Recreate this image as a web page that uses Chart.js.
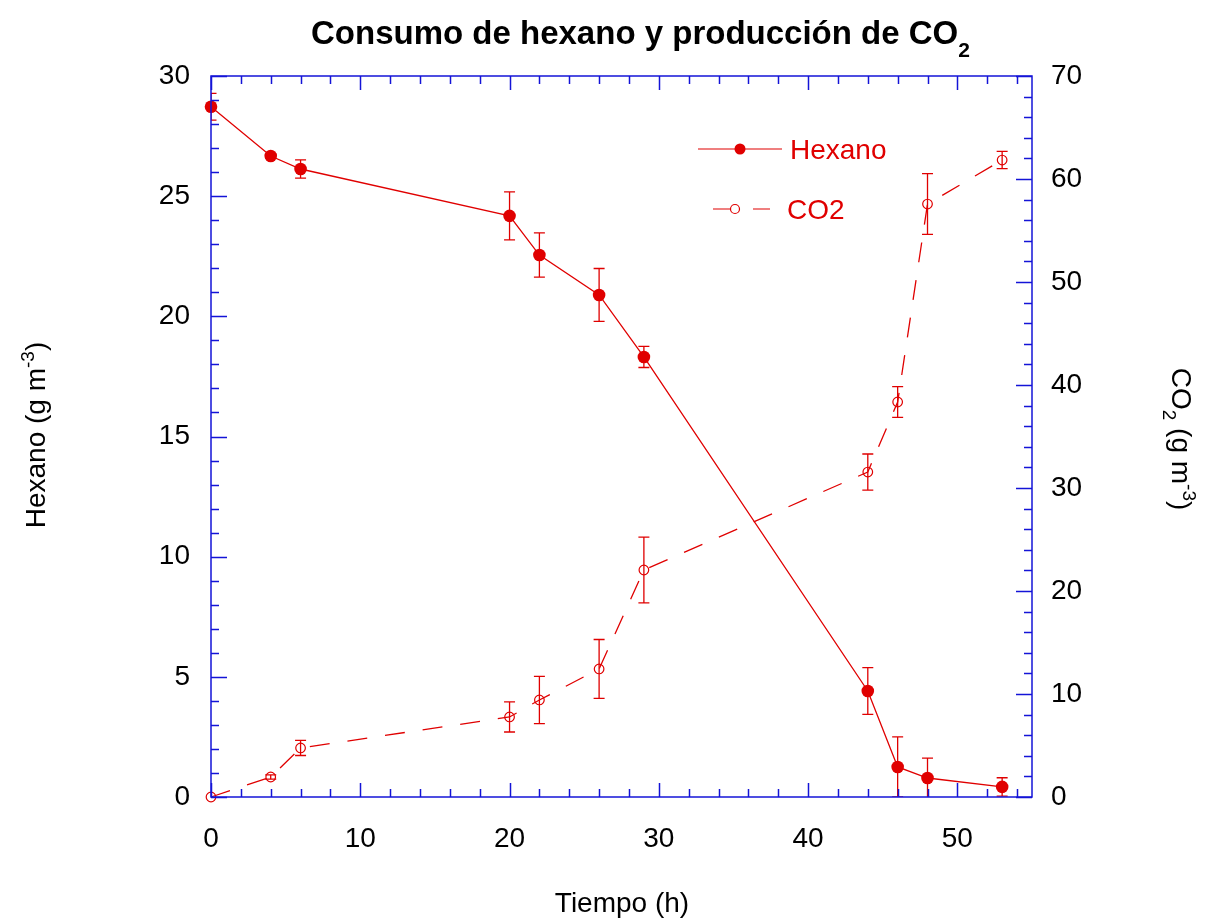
<!DOCTYPE html>
<html>
<head>
<meta charset="utf-8">
<script src="https://cdn.jsdelivr.net/npm/chart.js@4.4.1/dist/chart.umd.min.js"></script>
<style>
  html, body { margin: 0; padding: 0; background: #fff; }
  #wrap { width: 1206px; height: 919px; }
</style>
</head>
<body>
<div id="wrap"><canvas id="grafico" width="1206" height="919"></canvas></div>
<script>
// tiempo de muestreo (h)
const tiempo = [0, 4, 6, 20, 22, 26, 29, 44, 46, 48, 53];
// hexano (g m-3) y su desviacion
const hexano = [28.72, 26.67, 26.13, 24.18, 22.55, 20.89, 18.31, 4.41, 1.25, 0.79, 0.42];
const hexanoErr = [0.56, 0.1, 0.38, 1.0, 0.92, 1.1, 0.44, 0.97, 1.25, 0.83, 0.38];
// CO2 (g m-3) y su desviacion
const co2 = [0, 1.94, 4.76, 7.77, 9.42, 12.43, 22.04, 31.55, 38.35, 57.57, 61.84];
const co2Err = [0, 0.2, 0.73, 1.46, 2.3, 2.86, 3.2, 1.75, 1.5, 2.95, 0.84];
// rotulos de los ejes
const ticksX = [0, 10, 20, 30, 40, 50];

const ROJO = '#e00000';
const AZUL = 'rgb(20,20,215)';
const FUENTE = '"Liberation Sans", Arial, sans-serif';

// barras de error, dibujadas antes de los marcadores
const barrasError = {
  id: 'barrasError',
  beforeDatasetsDraw(chart) {
    const ctx = chart.ctx;
    const x = chart.scales.x;
    const a = chart.chartArea;
    const series = [
      { v: hexano, e: hexanoErr, s: chart.scales.y },
      { v: co2, e: co2Err, s: chart.scales.y2 }
    ];
    ctx.save();
    ctx.beginPath();
    ctx.rect(a.left, a.top, a.right - a.left, a.bottom - a.top);
    ctx.clip();
    ctx.strokeStyle = ROJO;
    ctx.lineWidth = 1.3;
    series.forEach(sr => {
      tiempo.forEach((t, i) => {
        if (!sr.e[i]) return;
        const px = x.getPixelForValue(t);
        const y1 = sr.s.getPixelForValue(sr.v[i] + sr.e[i]);
        const y2 = sr.s.getPixelForValue(sr.v[i] - sr.e[i]);
        ctx.beginPath();
        ctx.moveTo(px, y1); ctx.lineTo(px, y2);
        ctx.moveTo(px - 5.5, y1); ctx.lineTo(px + 5.5, y1);
        ctx.moveTo(px - 5.5, y2); ctx.lineTo(px + 5.5, y2);
        ctx.stroke();
      });
    });
    ctx.restore();
  }
};

// marco azul con marcas hacia dentro en los cuatro lados
const marco = {
  id: 'marco',
  afterDatasetsDraw(chart) {
    const ctx = chart.ctx;
    const a = chart.chartArea;
    const x = chart.scales.x, y = chart.scales.y, y2 = chart.scales.y2;
    ctx.save();
    ctx.strokeStyle = AZUL;
    ctx.lineWidth = 1.5;
    ctx.strokeRect(a.left, a.top, a.right - a.left, a.bottom - a.top);
    ctx.beginPath();
    for (let t = 0; t <= 55; t += 2) {
      const px = Math.round(x.getPixelForValue(t)) + 0.5;
      const len = t % 10 === 0 ? 14 : 8;
      ctx.moveTo(px, a.bottom); ctx.lineTo(px, a.bottom - len);
      ctx.moveTo(px, a.top); ctx.lineTo(px, a.top + len);
    }
    for (let v = 0; v <= 30; v += 1) {
      const py = Math.round(y.getPixelForValue(v)) + 0.5;
      const len = v % 5 === 0 ? 16 : 8;
      ctx.moveTo(a.left, py); ctx.lineTo(a.left + len, py);
    }
    for (let v = 0; v <= 70; v += 2) {
      const py = Math.round(y2.getPixelForValue(v)) + 0.5;
      const len = v % 10 === 0 ? 16 : 8;
      ctx.moveTo(a.right, py); ctx.lineTo(a.right - len, py);
    }
    ctx.stroke();
    ctx.restore();
  }
};

// texto con un subindice o superindice
function texto(ctx, partes, x, y) {
  let cx = x;
  partes.forEach(p => {
    ctx.font = p.f;
    ctx.fillText(p.t, cx, y + (p.dy || 0));
    cx += ctx.measureText(p.t).width;
  });
}
function ancho(ctx, partes) {
  let w = 0;
  partes.forEach(p => { ctx.font = p.f; w += ctx.measureText(p.t).width; });
  return w;
}

// titulo, titulos de ejes y leyenda
const rotulos = {
  id: 'rotulos',
  afterDraw(chart) {
    const ctx = chart.ctx;
    const a = chart.chartArea;
    const n = '28px ' + FUENTE, p = '19px ' + FUENTE;
    ctx.save();
    ctx.fillStyle = '#000';
    ctx.textBaseline = 'alphabetic';
    ctx.textAlign = 'left';

    const tit = [
      { t: 'Consumo de hexano y producción de CO', f: 'bold 33px ' + FUENTE },
      { t: '2', f: 'bold 21px ' + FUENTE, dy: 13 }
    ];
    texto(ctx, tit, 311, 44);

    const tx = [{ t: 'Tiempo (h)', f: n }];
    texto(ctx, tx, 622 - ancho(ctx, tx) / 2, 912);

    const izq = [{ t: 'Hexano (g m', f: n }, { t: '-3', f: p, dy: -11 }, { t: ')', f: n }];
    ctx.save();
    ctx.translate(45, 435);
    ctx.rotate(-Math.PI / 2);
    texto(ctx, izq, -ancho(ctx, izq) / 2, 0);
    ctx.restore();

    const der = [{ t: 'CO', f: n }, { t: '2', f: p, dy: 9 }, { t: ' (g m', f: n },
                 { t: '-3', f: p, dy: -11 }, { t: ')', f: n }];
    ctx.save();
    ctx.translate(1172, 439);
    ctx.rotate(Math.PI / 2);
    texto(ctx, der, -ancho(ctx, der) / 2, 0);
    ctx.restore();

    // leyenda
    const lx = a.left, ly = a.top;
    ctx.strokeStyle = ROJO;
    ctx.fillStyle = ROJO;
    ctx.lineWidth = 1.2;
    ctx.beginPath();
    ctx.moveTo(lx + 487, ly + 73); ctx.lineTo(lx + 571, ly + 73);
    ctx.stroke();
    ctx.beginPath();
    ctx.arc(lx + 529, ly + 73, 5.5, 0, Math.PI * 2);
    ctx.fill();
    ctx.setLineDash([17, 23]);
    ctx.beginPath();
    ctx.moveTo(lx + 502, ly + 133); ctx.lineTo(lx + 561, ly + 133);
    ctx.stroke();
    ctx.setLineDash([]);
    ctx.beginPath();
    ctx.arc(lx + 524, ly + 133, 4.5, 0, Math.PI * 2);
    ctx.stroke();
    ctx.font = n;
    ctx.textBaseline = 'middle';
    ctx.fillText(chart.data.datasets[0].label, lx + 579, ly + 75);
    ctx.fillText(chart.data.datasets[1].label, lx + 576, ly + 135);
    ctx.restore();
  }
};

new Chart(document.getElementById('grafico'), {
  type: 'line',
  data: {
    datasets: [{
      label: 'Hexano',
      data: tiempo.map((t, i) => ({ x: t, y: hexano[i] })),
      yAxisID: 'y',
      borderColor: ROJO,
      borderWidth: 1.3,
      pointRadius: 6.3,
      pointBackgroundColor: ROJO,
      pointBorderColor: ROJO,
      pointBorderWidth: 0,
      tension: 0
    }, {
      label: 'CO2',
      data: tiempo.map((t, i) => ({ x: t, y: co2[i] })),
      yAxisID: 'y2',
      borderColor: ROJO,
      borderWidth: 1.3,
      borderDash: [20, 18],
      pointRadius: 4.8,
      pointBackgroundColor: 'rgba(0,0,0,0)',
      pointBorderColor: ROJO,
      pointBorderWidth: 1.2,
      tension: 0
    }]
  },
  options: {
    responsive: false,
    animation: false,
    clip: false,
    layout: { padding: { top: 76, left: 0, right: 0, bottom: 0 } },
    plugins: { legend: { display: false }, title: { display: false }, tooltip: { enabled: false } },
    scales: {
      x: {
        type: 'linear', min: 0, max: 55,
        afterBuildTicks: s => { s.ticks = ticksX.map(v => ({ value: v })); },
        ticks: { color: '#000', font: { size: 28, family: FUENTE }, padding: 25, maxRotation: 0 },
        grid: { display: false, drawTicks: false },
        border: { display: false },
        afterFit: s => { s.height = 122; }
      },
      y: {
        position: 'left', min: 0, max: 30,
        ticks: { stepSize: 5, color: '#000', font: { size: 28, family: FUENTE }, padding: 21 },
        grid: { display: false, drawTicks: false },
        border: { display: false },
        afterFit: s => { s.width = 211; }
      },
      y2: {
        position: 'right', min: 0, max: 70,
        ticks: { stepSize: 10, color: '#000', font: { size: 28, family: FUENTE }, padding: 19 },
        grid: { display: false, drawTicks: false },
        border: { display: false },
        afterFit: s => { s.width = 174; }
      }
    }
  },
  plugins: [barrasError, marco, rotulos]
});
</script>
</body>
</html>
